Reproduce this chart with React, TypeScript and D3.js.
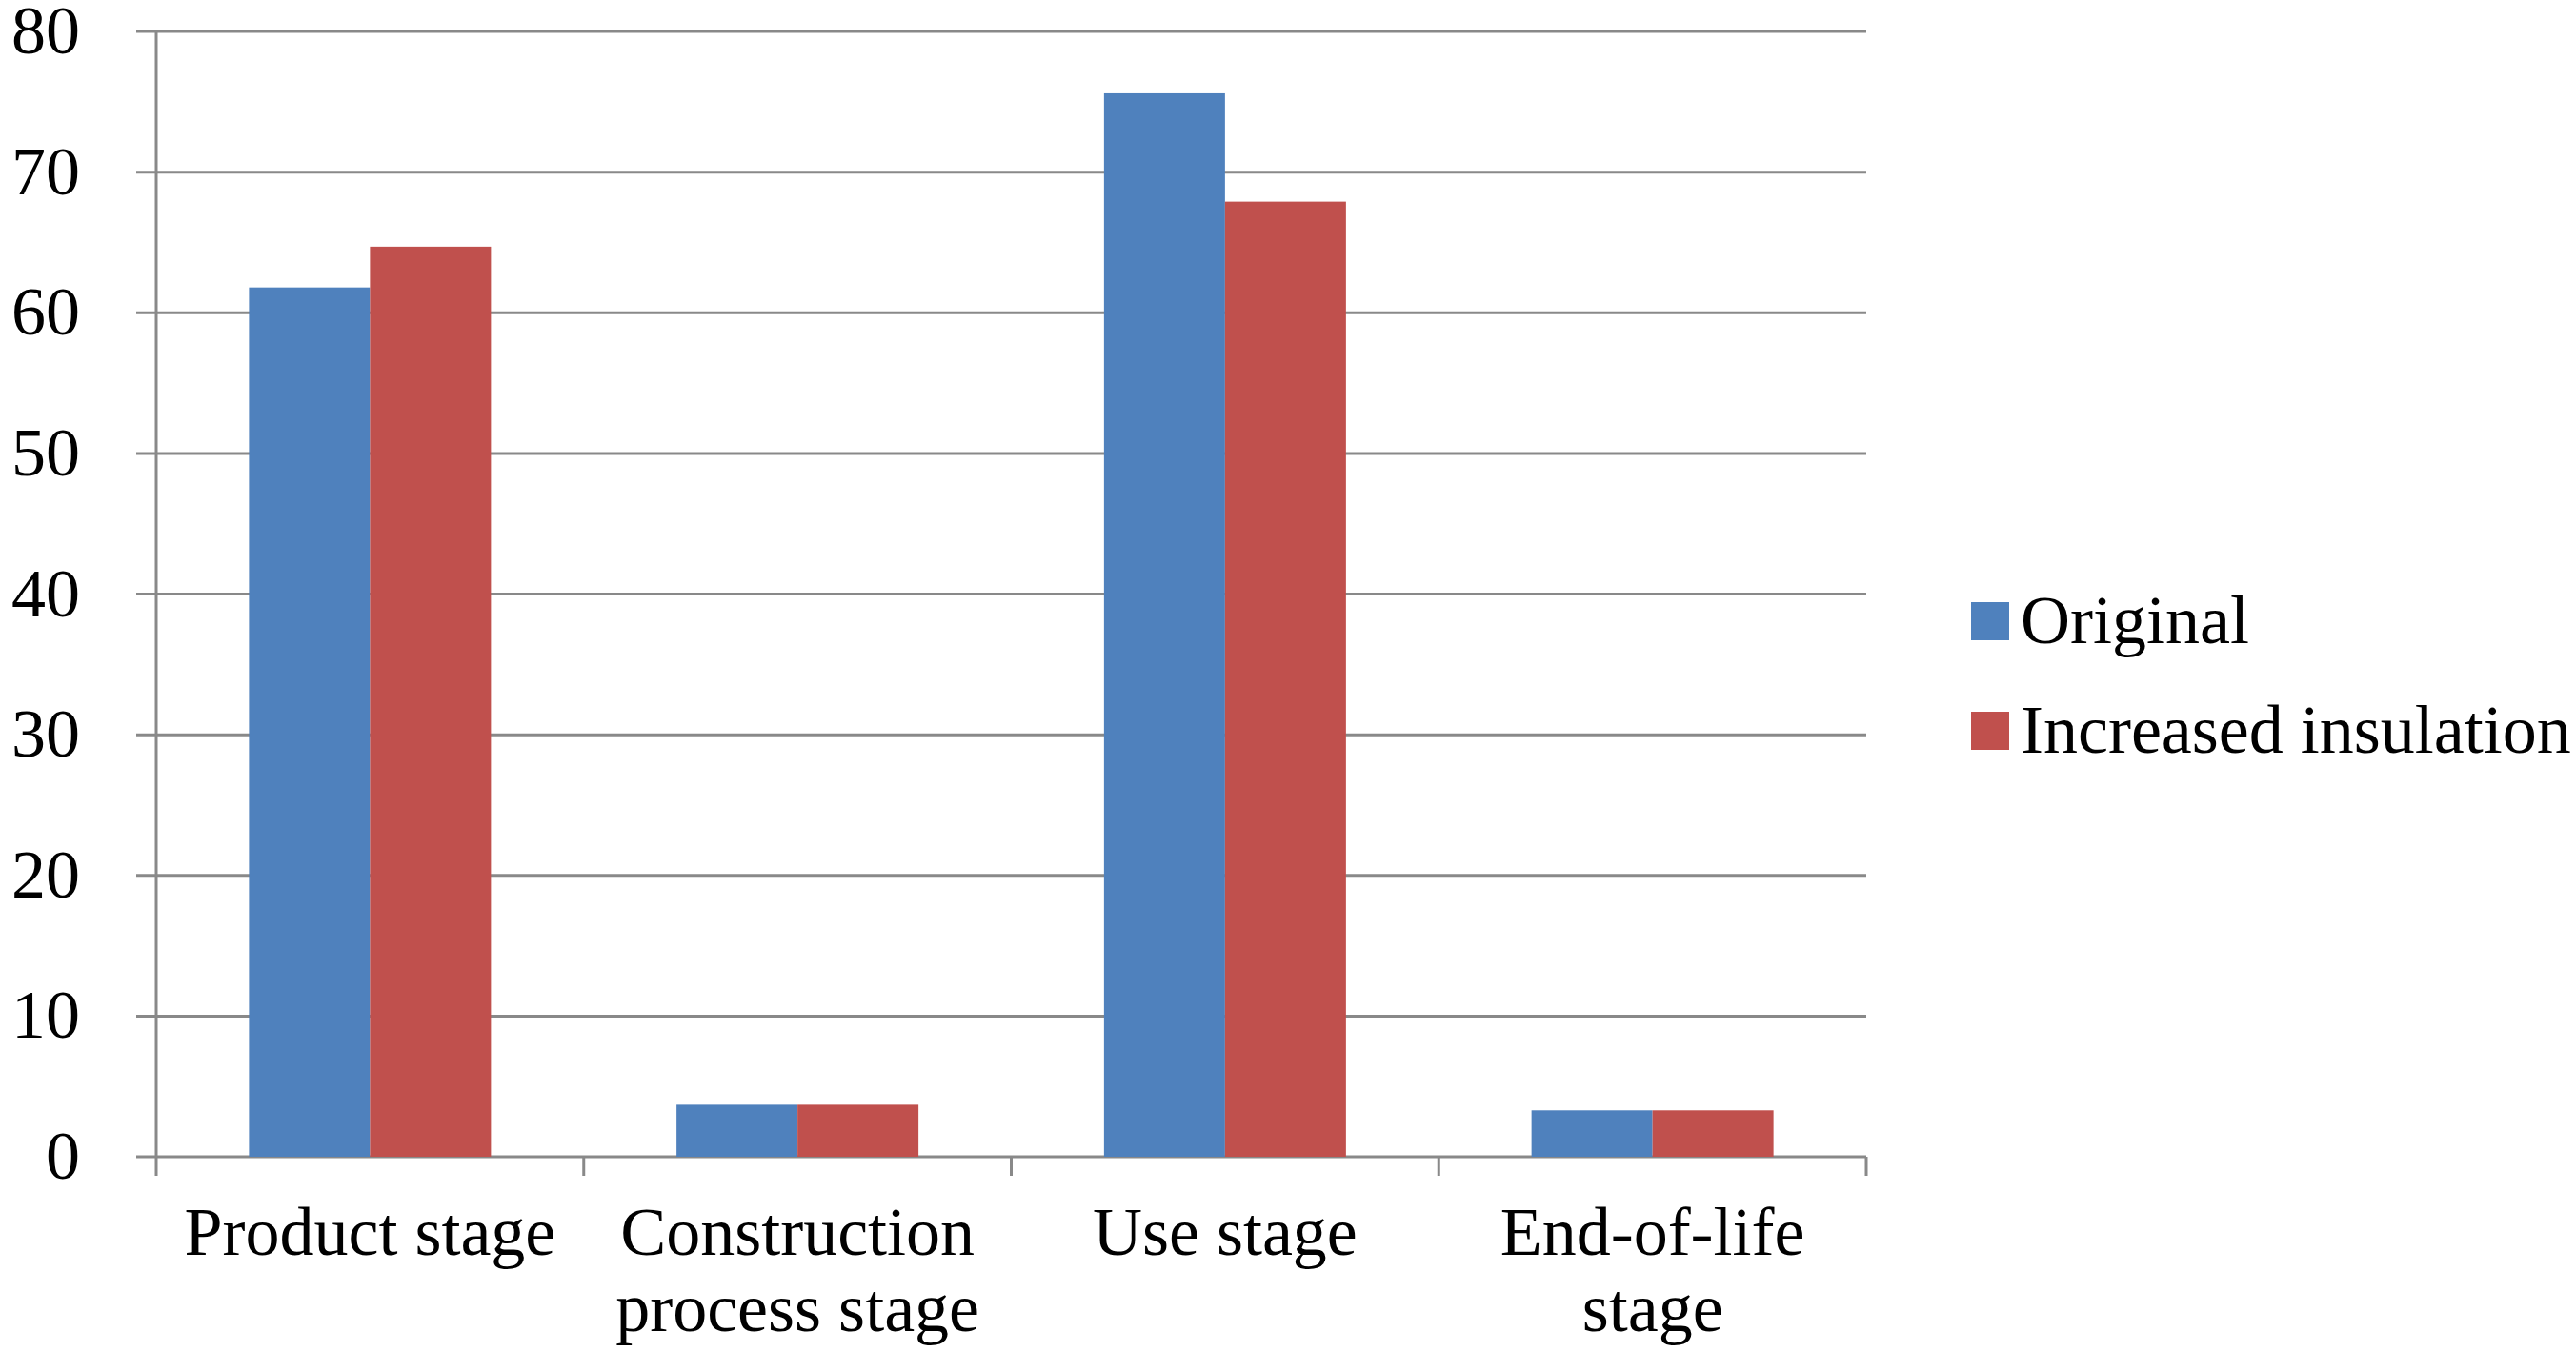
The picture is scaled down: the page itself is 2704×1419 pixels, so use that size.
import React, { useEffect, useRef } from 'react';
import * as d3 from 'd3';

const categories = ['Product stage', 'Construction process stage', 'Use stage', 'End-of-life stage'];
const seriesNames = ['Original', 'Increased insulation'];
const original = [61.8, 3.7, 75.6, 3.3];
const increased = [64.7, 3.7, 67.9, 3.3];
const yTicks = [0, 10, 20, 30, 40, 50, 60, 70, 80];
const colors = ['#4F81BD', '#C0504D'];

const W = 2704;
const H = 1419;
const FONT = '"Liberation Serif", "Times New Roman", serif';
const FS = 72;

const App: React.FC = () => {
  const svgRef = useRef<SVGSVGElement>(null);

  useEffect(() => {
    if (!svgRef.current) return;
    const svg = d3.select(svgRef.current);
    svg.selectAll('*').remove();

    const margin = { top: 33, left: 164, right: W - 1959, bottom: H - 1214 };
    const width = W - margin.left - margin.right;
    const height = H - margin.top - margin.bottom;

    const g = svg.append('g').attr('transform', `translate(${margin.left},${margin.top})`);

    const x0 = d3.scaleBand().domain(categories).range([0, width]).paddingInner(0).paddingOuter(0);
    const groupW = x0.bandwidth() * 0.566;
    const x1 = d3.scaleBand().domain(seriesNames).range([0, groupW]).padding(0);
    const y = d3.scaleLinear().domain([0, 80]).range([height, 0]);

    const gridColor = '#898989';

    // gridlines with left tick
    g.append('g')
      .selectAll('line')
      .data(yTicks)
      .enter()
      .append('line')
      .attr('x1', -21)
      .attr('x2', width)
      .attr('y1', d => y(d))
      .attr('y2', d => y(d))
      .attr('stroke', gridColor)
      .attr('stroke-width', 3);

    // y labels
    g.append('g')
      .selectAll('text')
      .data(yTicks)
      .enter()
      .append('text')
      .attr('x', 84 - margin.left)
      .attr('y', d => y(d) + FS * 0.32)
      .attr('text-anchor', 'end')
      .style('font-family', FONT)
      .style('font-size', `${FS}px`)
      .text(d => d);

    // bars
    const series = [original, increased];
    const groups = g
      .selectAll('.grp')
      .data(categories)
      .enter()
      .append('g')
      .attr('transform', c => `translate(${(x0(c) || 0) + (x0.bandwidth() - groupW) / 2},0)`);

    groups
      .selectAll('rect')
      .data((c, i) => seriesNames.map((s, si) => ({ s, v: series[si][i], si })))
      .enter()
      .append('rect')
      .attr('x', d => x1(d.s) || 0)
      .attr('y', d => y(d.v))
      .attr('width', x1.bandwidth())
      .attr('height', d => height - y(d.v))
      .attr('fill', d => colors[d.si]);

    // y axis line
    g.append('line')
      .attr('x1', 0)
      .attr('x2', 0)
      .attr('y1', 0)
      .attr('y2', height + 20)
      .attr('stroke', gridColor)
      .attr('stroke-width', 3);

    // x axis ticks at band boundaries
    const bounds = categories.map(c => (x0(c) || 0) + x0.bandwidth());
    g.append('g')
      .selectAll('line')
      .data(bounds)
      .enter()
      .append('line')
      .attr('x1', d => d)
      .attr('x2', d => d)
      .attr('y1', height)
      .attr('y2', height + 20)
      .attr('stroke', gridColor)
      .attr('stroke-width', 3);

    // x labels with wrapping
    const maxW = 420;
    categories.forEach(c => {
      const cx = (x0(c) || 0) + x0.bandwidth() / 2;
      const t = g
        .append('text')
        .attr('x', cx)
        .attr('y', height + 103)
        .attr('text-anchor', 'middle')
        .style('font-family', FONT)
        .style('font-size', `${FS}px`);
      const words = c.split(' ');
      let line: string[] = [];
      let ts = t.append('tspan').attr('x', cx).attr('dy', 0);
      words.forEach(w => {
        line.push(w);
        ts.text(line.join(' '));
        if ((ts.node() as SVGTSpanElement).getComputedTextLength() > maxW && line.length > 1) {
          line.pop();
          ts.text(line.join(' '));
          line = [w];
          ts = t.append('tspan').attr('x', cx).attr('dy', 80).text(w);
        }
      });
    });

    // legend
    const legend = svg.append('g');
    const legendY = [652, 767];
    seriesNames.forEach((s, i) => {
      legend
        .append('rect')
        .attr('x', 2069)
        .attr('y', legendY[i] - 20)
        .attr('width', 40)
        .attr('height', 40)
        .attr('fill', colors[i]);
      legend
        .append('text')
        .attr('x', 2121)
        .attr('y', legendY[i] + FS * 0.32)
        .style('font-family', FONT)
        .style('font-size', `${FS}px`)
        .text(s);
    });
  }, []);

  return (
    <div style={{ position: 'fixed', left: 0, top: 0 }}>
      <svg ref={svgRef} width={W} height={H} style={{ display: 'block', background: '#fff' }} />
    </div>
  );
};

export default App;
